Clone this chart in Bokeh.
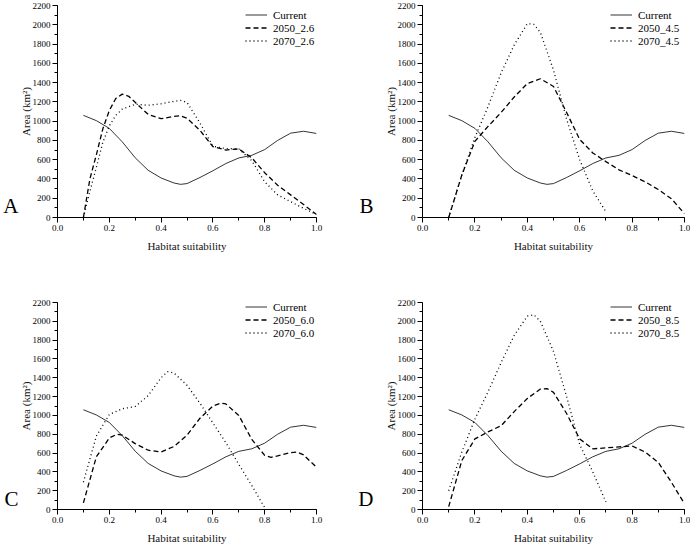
from bokeh.plotting import figure
from bokeh.layouts import gridplot
from bokeh.models import (Range1d, SingleIntervalTicker, FixedTicker, PrintfTickFormatter,
                          Legend, LegendItem, LinearAxis)
from bokeh.embed import file_html
from bokeh.resources import INLINE

FONT = "Liberation Serif"

# ---------------- data ----------------
x_cur = [0.10, 0.15, 0.20, 0.25, 0.30, 0.35, 0.40, 0.45, 0.475, 0.50, 0.55, 0.60, 0.65, 0.70, 0.75, 0.80, 0.85, 0.90, 0.95, 1.00]
y_cur = [1060, 1005, 925, 785, 620, 490, 410, 358, 344, 352, 415, 485, 560, 618, 645, 705, 800, 875, 895, 872]

# Panel A (RCP 2.6)
xa50 = [0.10, 0.125, 0.15, 0.175, 0.20, 0.225, 0.25, 0.275, 0.30, 0.35, 0.40, 0.45, 0.475, 0.50, 0.55, 0.60, 0.65, 0.70, 0.75, 0.80, 0.85, 0.90, 0.95, 1.00]
ya50 = [0, 400, 650, 920, 1110, 1235, 1280, 1258, 1195, 1070, 1025, 1050, 1055, 1030, 905, 735, 700, 712, 620, 465, 335, 235, 135, 30]
xa70 = [0.10, 0.125, 0.15, 0.175, 0.20, 0.225, 0.25, 0.30, 0.35, 0.40, 0.45, 0.475, 0.50, 0.55, 0.60, 0.65, 0.70, 0.75, 0.80, 0.85, 0.90, 0.95, 1.00]
ya70 = [0, 270, 520, 780, 950, 1060, 1125, 1175, 1165, 1180, 1205, 1215, 1195, 980, 740, 715, 712, 590, 370, 235, 165, 95, 30]

# Panel B (RCP 4.5)
xb50 = [0.10, 0.15, 0.20, 0.25, 0.30, 0.35, 0.40, 0.45, 0.50, 0.55, 0.60, 0.65, 0.70, 0.75, 0.80, 0.85, 0.90, 0.95, 1.00]
yb50 = [0, 440, 790, 945, 1090, 1250, 1390, 1440, 1360, 1090, 810, 670, 580, 495, 435, 370, 290, 195, 40]
xb70 = [0.10, 0.15, 0.20, 0.25, 0.30, 0.35, 0.40, 0.425, 0.45, 0.50, 0.55, 0.60, 0.65, 0.70]
yb70 = [0, 440, 830, 1150, 1500, 1790, 2012, 2005, 1920, 1530, 1020, 600, 275, 60]

# Panel C (RCP 6.0)
xc50 = [0.10, 0.15, 0.20, 0.23, 0.25, 0.30, 0.35, 0.40, 0.45, 0.50, 0.55, 0.60, 0.63, 0.65, 0.70, 0.75, 0.80, 0.825, 0.85, 0.90, 0.925, 0.95, 1.00]
yc50 = [70, 560, 760, 800, 790, 700, 630, 612, 670, 790, 970, 1100, 1130, 1122, 1000, 745, 575, 555, 570, 605, 610, 580, 450]
xc70 = [0.10, 0.15, 0.20, 0.25, 0.30, 0.35, 0.40, 0.425, 0.45, 0.50, 0.55, 0.60, 0.65, 0.70, 0.75, 0.80]
yc70 = [290, 780, 1010, 1070, 1095, 1210, 1400, 1465, 1450, 1320, 1130, 920, 710, 480, 255, 20]

# Panel D (RCP 8.5)
xd50 = [0.10, 0.15, 0.20, 0.25, 0.30, 0.35, 0.40, 0.45, 0.475, 0.50, 0.55, 0.60, 0.65, 0.70, 0.75, 0.80, 0.85, 0.90, 0.95, 1.00]
yd50 = [30, 520, 750, 825, 890, 1040, 1180, 1280, 1285, 1245, 1020, 750, 645, 655, 665, 675, 610, 500, 290, 60]
xd70 = [0.10, 0.15, 0.20, 0.25, 0.30, 0.35, 0.40, 0.425, 0.45, 0.50, 0.55, 0.60, 0.65, 0.70]
yd70 = [200, 610, 960, 1250, 1560, 1850, 2055, 2070, 2000, 1680, 1200, 690, 400, 80]

panel_letters = ["A", "B", "C", "D"]
legend_labels = [
    ["Current", "2050_2.6", "2070_2.6"],
    ["Current", "2050_4.5", "2070_4.5"],
    ["Current", "2050_6.0", "2070_6.0"],
    ["Current", "2050_8.5", "2070_8.5"],
]
x_title = "Habitat suitability"
y_title = "Area (km²)"
LETTER_POS = 115  # y value at which the panel letter sits


def make_panel(letter, labels, s50, s70, left, right, top, bottom, width, height, letter_standoff):
    p = figure(width=width, height=height, output_backend="svg", toolbar_location=None,
               x_range=Range1d(0, 1), y_range=Range1d(0, 2200),
               min_border_left=left, min_border_right=right,
               min_border_top=top, min_border_bottom=bottom)
    p.outline_line_color = None
    p.grid.visible = False
    p.background_fill_color = "white"

    p.xaxis.ticker = SingleIntervalTicker(interval=0.2, num_minor_ticks=2)
    p.yaxis.ticker = SingleIntervalTicker(interval=200, num_minor_ticks=2)
    p.xaxis.formatter = PrintfTickFormatter(format="%.1f")
    for ax in (p.xaxis, p.yaxis):
        ax.axis_line_color = "black"
        ax.major_tick_line_color = "black"
        ax.minor_tick_line_color = "black"
        ax.major_tick_out = 5
        ax.major_tick_in = 0
        ax.minor_tick_out = 3
        ax.minor_tick_in = 0
        ax.major_label_text_font = FONT
        ax.major_label_text_font_size = "9px"
        ax.major_label_text_color = "black"
        ax.major_label_standoff = 2
        ax.axis_label_text_font = FONT
        ax.axis_label_text_font_size = "11px"
        ax.axis_label_text_font_style = "normal"
        ax.axis_label_text_color = "#111111"
    p.xaxis.axis_label = x_title
    p.yaxis.axis_label = y_title
    p.xaxis.axis_label_standoff = 6
    p.yaxis.axis_label_standoff = -2

    # panel letter, drawn as the only label of an extra, invisible left axis
    lax = LinearAxis(ticker=FixedTicker(ticks=[LETTER_POS], minor_ticks=[]),
                     major_label_overrides={LETTER_POS: letter},
                     axis_line_color=None, major_tick_line_color=None, minor_tick_line_color=None,
                     major_tick_out=0, major_tick_in=0,
                     major_label_text_font=FONT, major_label_text_font_size="21px",
                     major_label_text_color="black", major_label_standoff=letter_standoff)
    p.add_layout(lax, "left")

    r0 = p.line(x_cur, y_cur, line_color="black", line_width=0.8)
    r1 = p.line(s50[0], s50[1], line_color="black", line_width=1.3, line_dash="5 3")
    r2 = p.line(s70[0], s70[1], line_color="black", line_width=1.3, line_dash="1 3")

    leg = Legend(items=[LegendItem(label=labels[0], renderers=[r0]),
                        LegendItem(label=labels[1], renderers=[r1]),
                        LegendItem(label=labels[2], renderers=[r2])],
                 location=(188, 170), border_line_alpha=0, background_fill_alpha=0,
                 label_text_font=FONT, label_text_font_size="11px", label_text_color="black",
                 glyph_width=22, glyph_height=13, label_height=13, label_standoff=6,
                 spacing=0, padding=0, margin=0)
    p.add_layout(leg)
    return p


pa = make_panel(panel_letters[0], legend_labels[0], (xa50, ya50), (xa70, ya70), 54, 29, 5, 80, 345, 297, -2)
pb = make_panel(panel_letters[1], legend_labels[1], (xb50, yb50), (xb70, yb70), 77, 6, 5, 80, 345, 297, 8)
pc = make_panel(panel_letters[2], legend_labels[2], (xc50, yc50), (xc70, yc70), 54, 29, 5, 32, 345, 249, -2)
pd = make_panel(panel_letters[3], legend_labels[3], (xd50, yd50), (xd70, yd70), 77, 6, 5, 32, 345, 249, 8)

grid = gridplot([[pa, pb], [pc, pd]], toolbar_location=None)

open("out.html", "w").write(file_html(grid, INLINE))
